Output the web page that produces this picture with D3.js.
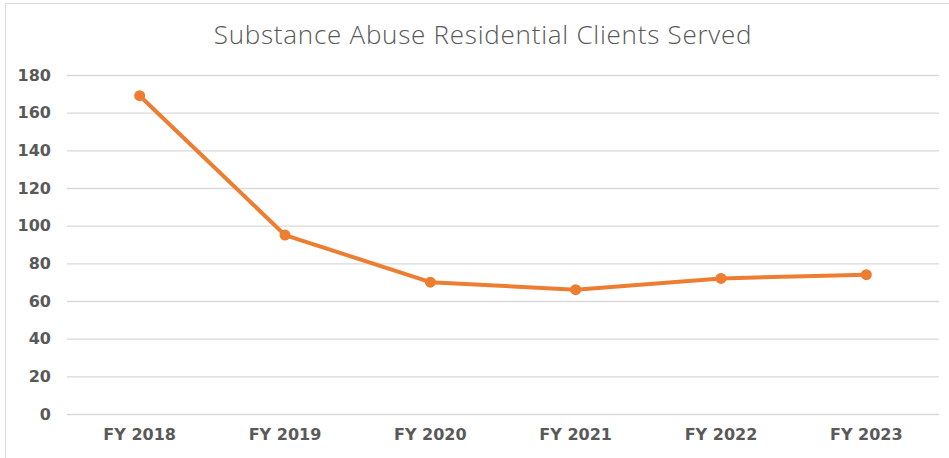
<!DOCTYPE html>
<html>
<head>
<meta charset="utf-8">
<script src="https://cdn.jsdelivr.net/npm/d3@7"></script>
<style>
  body { margin: 0; background: #fff; }
  svg { display: block; }
</style>
</head>
<body>
<svg id="chart"></svg>
<script>
const title = "Substance Abuse Residential Clients Served";
const years = ["FY 2018", "FY 2019", "FY 2020", "FY 2021", "FY 2022", "FY 2023"];
const clients = [169, 95, 70, 66, 72, 74];
const yTicks = [0, 20, 40, 60, 80, 100, 120, 140, 160, 180];

const width = 949, height = 458;
const margin = { left: 67, right: 10, top: 75, bottom: 44 };

const svg = d3.select("#chart").attr("width", width).attr("height", height);

// chart frame (right and bottom edges are off the picture)
svg.append("path")
    .attr("d", "M5.5," + height + "V3.5H" + width)
    .attr("fill", "none")
    .attr("stroke", "#d9d9d9")
    .attr("stroke-width", 1);

const x = d3.scaleBand().domain(years).range([margin.left, width - margin.right]);
const y = d3.scaleLinear().domain([0, 180]).range([height - margin.bottom, margin.top]);

svg.append("text")
    .attr("x", 483).attr("y", 44)
    .attr("text-anchor", "middle")
    .style("font-family", "'Open Sans', sans-serif")
    .style("font-weight", 300)
    .style("font-size", "26px")
    .style("letter-spacing", "0.75px")
    .style("fill", "#595959")
    .text(title);

const tickFont = g => g.selectAll(".tick text")
    .style("font-family", "'DejaVu Sans', sans-serif")
    .style("font-weight", 700)
    .style("font-size", "16px")
    .style("fill", "#595959");

const yAxis = d3.axisLeft(y).tickValues(yTicks).tickSize(-(width - margin.right - margin.left)).tickPadding(16);
const gy = svg.append("g").attr("transform", "translate(" + margin.left + ",0)").call(yAxis).call(tickFont);
gy.select(".domain").remove();
gy.selectAll(".tick line").attr("stroke", "#d9d9d9").attr("stroke-width", 1.3);

const xAxis = d3.axisBottom(x).tickSize(0).tickPadding(15);
const gx = svg.append("g").attr("transform", "translate(0," + y(0) + ")").call(xAxis).call(tickFont);
gx.select(".domain").remove();

const data = years.map((yr, i) => ({ year: yr, value: clients[i] }));
const cx = d => x(d.year) + x.bandwidth() / 2;

const line = d3.line().x(cx).y(d => y(d.value));

svg.append("path")
    .attr("d", line(data))
    .attr("fill", "none")
    .attr("stroke", "#ed7d31")
    .attr("stroke-width", 4)
    .attr("stroke-linejoin", "round");

svg.selectAll("circle.pt")
    .data(data)
    .enter().append("circle")
    .attr("class", "pt")
    .attr("cx", cx)
    .attr("cy", d => y(d.value))
    .attr("r", 5.5)
    .attr("fill", "#ed7d31");
</script>
</body>
</html>
